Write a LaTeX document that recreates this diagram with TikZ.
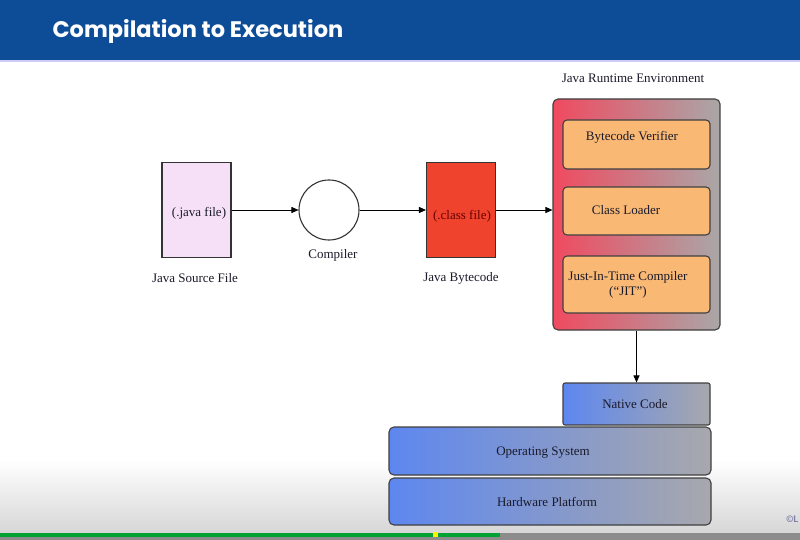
\documentclass[tikz,border=0pt]{standalone}
\usepackage{fontspec}
\setmainfont{Liberation Serif}
\newfontfamily\titlefont{Poppins}
\usetikzlibrary{arrows.meta}

\definecolor{hdrblue}{HTML}{0D4C97}
\definecolor{srcpink}{HTML}{F6E0F8}
\definecolor{bcred}{HTML}{F0432E}
\definecolor{jrered}{HTML}{F04A60}
\definecolor{jregray}{HTML}{A9A7A8}
\definecolor{stageorange}{HTML}{F9B874}
\definecolor{layerblue}{HTML}{5D87F0}
\definecolor{layergray}{HTML}{A8A8AC}
\definecolor{darktext}{HTML}{1A1A2A}

\tikzset{
  flow/.style={draw=black, line width=0.9pt, -{Triangle[length=7pt,width=6pt]}},
  filebox/.style={draw=black!80, line width=1.1pt, minimum width=69pt, minimum height=95pt, inner sep=0pt},
  stagebox/.style={draw=black!75, line width=1.1pt, rounded corners=4pt, fill=stageorange, inner sep=0pt},
  layerbox/.style={draw=black!75, line width=1.1pt, rounded corners=5pt, left color=layerblue, right color=layergray, inner sep=0pt},
  caption/.style={font=\fontsize{13}{15}\selectfont, text=darktext},
}

\begin{document}
\begin{tikzpicture}[x=1pt,y=-1pt]
\useasboundingbox (0,0) rectangle (800,540);
\fill[white] (0,0) rectangle (800,540);

% soft grey fade along the lower edge
\shade[top color=white, bottom color=black!16] (0,460) rectangle (800,533);
% header band
\fill[hdrblue] (0,0) rectangle (800,60);
\fill[black!15!blue!20] (0,60) rectangle (800,62);
\node[anchor=west, text=white, font=\titlefont\fontsize{22.5}{26}\selectfont\bfseries] (title) at (49,31) {Compilation to Execution};

% progress strip
\fill[black!45] (0,533) rectangle (800,540);
\fill[green!55!black!80!cyan] (0,533) rectangle (500,537);
\fill[yellow] (433,532) rectangle (438,537);

% source file
\node[filebox, fill=srcpink] (src) at (196.5,210) {};
\node[caption] (srctxt) at (199,213) {(.java file)};
\node[caption] (srclbl) at (195,278) {Java Source File};

% compiler
\node[draw=black!80, line width=1.1pt, circle, minimum size=60pt, inner sep=0pt, fill=white] (comp) at (329,210) {};
\node[caption] (complbl) at (333,255) {Compiler};

% bytecode
\node[filebox, fill=bcred] (bc) at (461,210) {};
\node[caption, text=black!60!red] (bctxt) at (462,216) {(.class file)};
\node[caption] (bclbl) at (461,278) {Java Bytecode};

% runtime environment
\node[draw=black!75, line width=1.1pt, rounded corners=5pt, left color=jrered, right color=jregray, minimum width=167pt, minimum height=231pt, inner sep=0pt] (jre) at (636.5,214.5) {};
\node[caption] (jrelbl) at (633,78) {Java Runtime Environment};

\node[stagebox, minimum width=147pt, minimum height=49pt] (ver) at (636.5,144.5) {};
\node[caption] (vertxt) at (632,137) {Bytecode Verifier};
\node[stagebox, minimum width=147pt, minimum height=48pt] (load) at (636.5,211) {};
\node[caption] (loadtxt) at (626,210) {Class Loader};
\node[stagebox, minimum width=147pt, minimum height=57pt] (jit) at (636.5,284.5) {};
\node[caption, align=center] (jittxt) at (628,284.5) {Just-In-Time Compiler\\(``JIT'')};

% platform layers
\node[layerbox, rounded corners=2pt, minimum width=147pt, minimum height=42pt] (native) at (636.5,404) {};
\node[caption] (nativetxt) at (635,404) {Native Code};
\node[layerbox, minimum width=322pt, minimum height=48pt] (os) at (550,451) {};
\node[caption] (ostxt) at (543,453) {Operating System};
\node[layerbox, minimum width=322pt, minimum height=47pt] (hw) at (550,501.5) {};
\node[caption] (hwtxt) at (547,502) {Hardware Platform};

\node[font=\sffamily\bfseries\fontsize{9.5}{10}\selectfont, text=blue!30!black!50, anchor=west] (copy) at (783,519) {\textcopyright L};

% flow
\draw[flow] (src.east) -- (comp.west);
\draw[flow] (comp.east) -- (bc.west);
\draw[flow] (bc.east) -- (bc.east -| jre.west);
\draw[flow] (jre.south) -- (native.north);
\end{tikzpicture}
\end{document}
